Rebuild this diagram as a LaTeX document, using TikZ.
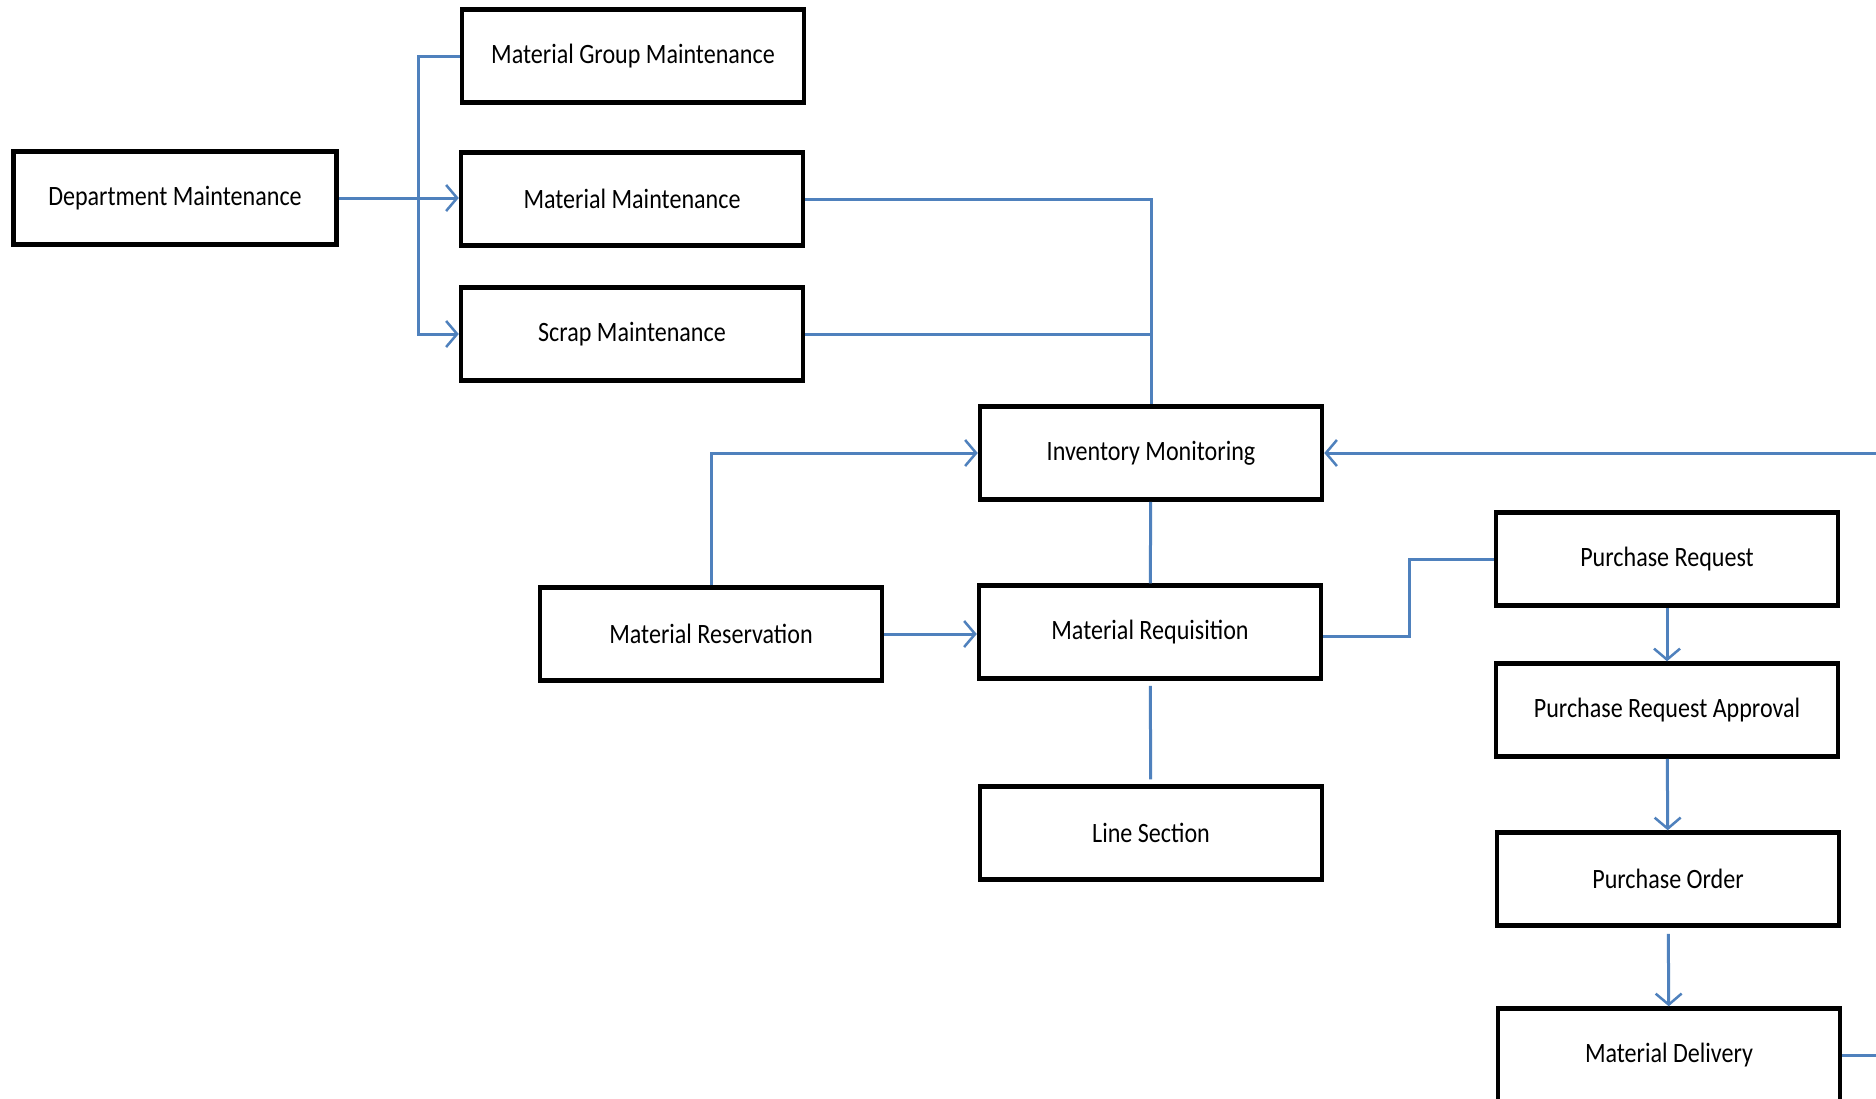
\documentclass[tikz,border=0pt]{standalone}
\usepackage{fontspec}
\setmainfont{Carlito}
\newfontfamily\boxfont[FakeStretch=0.86]{Carlito}
\usetikzlibrary{arrows.meta,positioning}
\definecolor{flowblue}{HTML}{4F81BD}

\begin{document}
\begin{tikzpicture}[x=1pt,y=-1pt,
    box/.style={draw,line width=4.5pt,minimum width=342pt,minimum height=93pt,inner sep=0pt,font=\boxfont\fontsize{28}{32}\selectfont},
    link/.style={draw=flowblue,line width=3pt},
    flow/.style={link,-{Straight Barb[length=11pt,width=26pt,line width=2.5pt]}}]
    \clip (0,0) rectangle (1876,1098);
    \fill[white] (0,0) rectangle (1876,1098);
    % master data
    \node[box,minimum width=323pt] (dept) at (175,198) {Department Maintenance};
    \node[box] (mgm) at (633,56) {Material Group Maintenance};
    \node[box] (mm) at (632,199) {Material Maintenance};
    \node[box] (scrap) at (632,334) {Scrap Maintenance};
    % inventory
    \node[box] (inv) at (1151,453) {Inventory Monitoring};
    \node[box] (res) at (711,634) {Material Reservation};
    \node[box] (req) at (1150,632) {Material Requisition};
    \node[box] (line) at (1151,833) {Line Section};
    % purchasing
    \node[box] (pr) at (1667,559) {Purchase Request};
    \node[box] (pra) at (1667,710) {Purchase Request Approval};
    \node[box] (po) at (1668,879) {Purchase Order};
    \node[box] (md) at (1669,1055) {Material Delivery};
    % flows
    \draw[flow] (dept.east) -- (dept.east -| mm.west);
    \draw[flow] (mgm.west) -- ++(-41,0) |- (scrap.west);
    \draw[link] (mm.east) -| (inv.north);
    \draw[link] (scrap.east) -- (scrap.east -| inv.north);
    \draw[flow] (res.north) |- (inv.west);
    \draw[flow] (res.east) -- (res.east -| req.west);
    \draw[link] (inv) -- (req);
    \draw[link,shorten <=5pt,shorten >=5pt] (req) -- (line);
    \draw[link] ([yshift=-4pt]req.east) -- ++(86,0) |- (pr.west);
    \draw[flow] (pr) -- (pra);
    \draw[flow] (pra) -- (po);
    \draw[flow,shorten <=6pt] (po) -- (md);
    \draw[flow] (md.east) -- ++(60,0) |- (inv.east);
\end{tikzpicture}
\end{document}
